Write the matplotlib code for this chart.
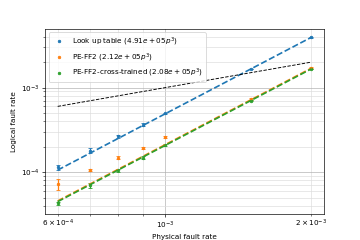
import numpy as np
import matplotlib
matplotlib.use("Agg")
import matplotlib.pyplot as plt

plt.rcParams['font.size'] = 8.7

# physical fault rates
p = np.array([6e-4, 7e-4, 8e-4, 9e-4, 1e-3, 1.5e-3, 2e-3])

# logical fault rates
lut = np.array([1.15e-4, 1.80e-4, 2.65e-4, 3.65e-4, 4.95e-4, 1.66e-3, 3.91e-3])
lut_err = np.array([8e-6, 1.2e-5, 1.2e-5, 1.2e-5, 1.0e-5, 2e-5, 3e-5])

ff2 = np.array([7.3e-5, 1.07e-4, 1.49e-4, 1.93e-4, 2.60e-4, 7.36e-4, 1.72e-3])
ff2_err = np.array([1.1e-5, 3e-6, 6e-6, 7e-6, 9e-6, 1.5e-5, 2e-5])

cross = np.array([4.28e-5, 7.0e-5, 1.06e-4, 1.49e-4, 2.08e-4, 7.03e-4, 1.66e-3])
cross_err = np.array([2e-6, 4e-6, 4e-6, 5e-6, 6e-6, 1.2e-5, 2e-5])

# fitted coefficients a * p^3
fits = [4.91e5, 2.12e5, 2.08e5]
names = ['Look up table', 'PE-FF2', 'PE-FF2-cross-trained']
series = [(lut, lut_err), (ff2, ff2_err), (cross, cross_err)]
colors = ['C0', 'C1', 'C2']

fig = plt.figure(figsize=(6, 4), dpi=60)

for (y, err), a, name, c in zip(series, fits, names, colors):
    plt.plot(p, y, '.', color=c, label=name + ' ($%.2ep^3$)' % a)
    plt.errorbar(p, y, yerr=err, fmt='none', ecolor=c, capsize=2.5)

for a, c in zip(fits, colors):
    plt.plot(p, a * p**3, '--', color=c, linewidth=2)

plt.plot(p, p, '--', color='black', linewidth=1.1)

plt.xscale('log')
plt.yscale('log')
plt.grid(which='both', color='#dddddd')
plt.grid(which='major', color='#b0b0b0')
plt.xlabel('Physical fault rate')
plt.ylabel('Logical fault rate')
plt.legend(loc='upper left')
plt.savefig('out.png', dpi=60)
